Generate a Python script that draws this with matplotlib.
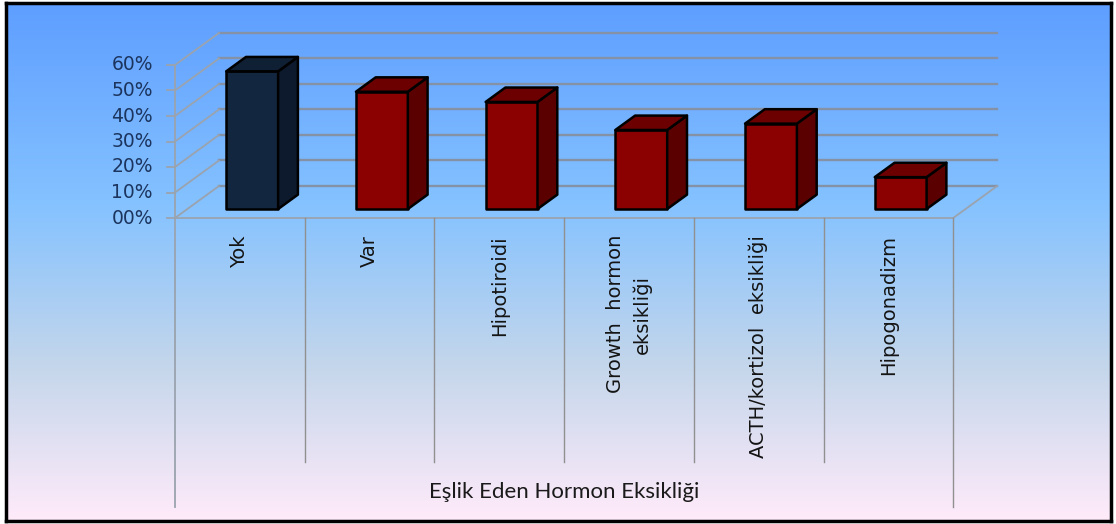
import numpy as np
import matplotlib
matplotlib.use("Agg")
import matplotlib.pyplot as plt
from matplotlib.patches import Polygon
from matplotlib.colors import LinearSegmentedColormap

# data (percent)
categories = ["Yok", "Var", "Hipotiroidi", "Growth  hormon\neksikliği",
              "ACTH/kortizol  eksikliği", "Hipogonadizm"]
values = [54, 46, 42, 31, 33.5, 12.5]
yticks = [0, 10, 20, 30, 40, 50, 60]
ytick_labels = ["00%", "10%", "20%", "30%", "40%", "50%", "60%"]
axis_title = "Eşlik Eden Hormon Eksikliği"

# oblique 3D projection: full floor depth shifts by DX categories and DY percent
DX, DY = 0.339, 12.55
D0, D1 = 0.28, 0.73          # bar front / back depth
BW = 0.40                    # bar width in category units

fig = plt.figure(figsize=(11.16, 5.24), dpi=100)

# background with gradient and black frame
bg = fig.add_axes([6 / 1116, 3 / 524, 1105 / 1116, 518 / 524])
cmap = LinearSegmentedColormap.from_list(
    "daybreak", [(0, "#5E9EFF"), (0.39, "#85C2FF"), (0.70, "#C4D6EB"), (1, "#FFEBFA")])
grad = np.linspace(0, 1, 256).reshape(-1, 1)
bg.imshow(grad, aspect="auto", cmap=cmap, extent=[0, 1, 0, 1], origin="upper")
bg.set_xticks([])
bg.set_yticks([])
for s in bg.spines.values():
    s.set_color("black")
    s.set_linewidth(2.5)

ax = fig.add_axes([0, 0, 1, 1])
ax.patch.set_alpha(0)
ax.set_xlim(-175 / 129.7, (1116 - 175) / 129.7)
ax.set_ylim((218 - 524) / 2.55, 218 / 2.55)
ax.axis("off")

n = len(categories)
grid_c = "#8592a6"
wall_c = "#9aa3ae"

# back wall and left wall gridlines
for v, lab in zip(yticks, ytick_labels):
    ax.plot([DX, n + DX], [v + DY, v + DY], color=grid_c, lw=1.7, zorder=1)
    ax.plot([0, DX], [v, v + DY], color=wall_c, lw=1.3, zorder=1)
    ax.plot([-0.06, 0], [v, v], color=wall_c, lw=1.3, zorder=1)
    ax.text(-0.17, v, lab, ha="right", va="center", fontsize=13.5,
            color="#1c355e")

# floor edges and axis lines
ax.plot([0, n], [0, 0], color=wall_c, lw=1.3, zorder=1)
ax.plot([n, n + DX], [0, DY], color=wall_c, lw=1.3, zorder=1)
ax.plot([0, 0], [max(yticks), -113.3], color=wall_c, lw=1.3, zorder=1)
ax.plot([n, n], [0, -113.3], color="#909090", lw=1.0, zorder=1)
for i in range(1, n):
    ax.plot([i, i], [0, -95.7], color="#909090", lw=1.0, zorder=1)

# 3D bars
for i, v in enumerate(values):
    if i == 0:
        front, side, top = "#13263f", "#0d1a2d", "#0f2035"
    else:
        front, side, top = "#8b0000", "#5a0000", "#6c0000"
    x0 = i + 0.5 - BW / 2 + D0 * DX
    x1 = x0 + BW
    y0 = D0 * DY
    y1 = y0 + v
    ddx, ddy = (D1 - D0) * DX, (D1 - D0) * DY
    faces = [
        ([(x0, y0), (x1, y0), (x1, y1), (x0, y1)], front),
        ([(x1, y0), (x1 + ddx, y0 + ddy), (x1 + ddx, y1 + ddy), (x1, y1)], side),
        ([(x0, y1), (x1, y1), (x1 + ddx, y1 + ddy), (x0 + ddx, y1 + ddy)], top),
    ]
    for pts, c in faces:
        ax.add_patch(Polygon(pts, closed=True, facecolor=c, edgecolor="black",
                             lw=1.8, joinstyle="round", zorder=3))

# category labels
for i, lab in enumerate(categories):
    ax.text(i + 0.5, -6.7, lab, rotation=90, ha="center", va="top",
            multialignment="center", linespacing=1.5, fontsize=14,
            color="#141414")

ax.text(n / 2, -107.5, axis_title, ha="center", va="center", fontsize=16,
        color="#1a1a1a", family=["Liberation Sans Narrow", "Lato", "DejaVu Sans"])

fig.savefig("out.png", dpi=100)
